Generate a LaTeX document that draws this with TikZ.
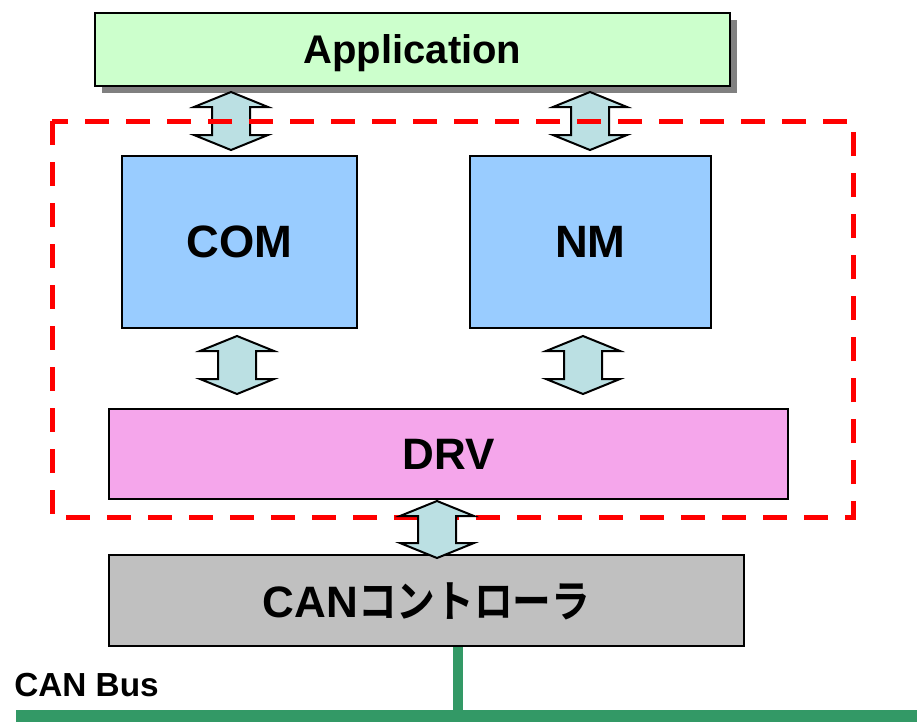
\documentclass[tikz,border=0pt]{standalone}
\usepackage{fontspec}
\setmainfont{Liberation Sans}
\newfontfamily\jpfont{Noto Sans CJK JP}[BoldFont={Noto Sans CJK JP Bold}]
\usetikzlibrary{calc}
\usetikzlibrary{fit}
\usetikzlibrary{shadows}
\definecolor{appgreen}{RGB}{204,255,204}
\definecolor{modblue}{RGB}{153,204,255}
\definecolor{drvpink}{RGB}{245,166,235}
\definecolor{ctrlgray}{RGB}{192,192,192}
\definecolor{pipecyan}{RGB}{187,224,227}
\definecolor{busgreen}{RGB}{51,153,102}
\definecolor{shadowgray}{RGB}{128,128,128}
\tikzset{
    layer/.style={draw=black, line width=1.5pt, inner sep=0pt},
    title/.style={font=\bfseries\fontsize{#1}{#1}\selectfont, inner sep=0pt, text depth=0pt},
    title/.default=34,
    pipe/.style={draw=black, line width=1.5pt, fill=pipecyan, line join=miter},
    frame/.style={draw=red, line width=3.75pt, dash pattern=on 18pt off 12.75pt}
}
% double-headed block arrow at x=#1 between node #2 (above) and node #3 (below)
\newcommand{\twoway}[5] {
	\coordinate (up) at ($(#1,0 |- #2.south)+(0,-#4)$);
	\coordinate (dn) at ($(#1,0 |- #3.north)+(0,#5)$);
	\draw[pipe] (up) -- ++(37,-15) -- ++(-18,0) -- ($(dn)+(19,15)$) -- ++(18,0)
		-- (dn) -- ++(-37,15) -- ++(18,0) -- ($(up)+(-19,-15)$) -- ++(-18,0) -- cycle;
}

\begin{document}
\begin{tikzpicture}[x=0.75pt, y=0.75pt]
		\useasboundingbox (0,0) rectangle (917,-722);

		% layers
		\node[layer, fill=appgreen, fit={(95,-13) (730,-86)},
			drop shadow={shadow xshift=5.25pt, shadow yshift=-5.25pt, fill=shadowgray, opacity=1}] (app) {};
		\node[title=30] at (app.center) {Application};

		\node[layer, fill=modblue, fit={(122,-156) (357,-328)}] (com) {};
		\node[title] at (com.center) {COM};

		\node[layer, fill=modblue, fit={(470,-156) (711,-328)}] (nm) {};
		\node[title] at (nm.center) {NM};

		\node[layer, fill=drvpink, fit={(109,-409) (788,-499)}] (drv) {};
		\node[title=33] at (drv.center) {DRV};

		\node[layer, fill=ctrlgray, fit={(109,-555) (744,-646)}] (ctrl) {};
		\node[title=33] at (ctrl.center) {CAN\scalebox{0.88}[1]{\jpfont\bfseries コントローラ}};

		% arrows between the layers
		\twoway{231}{app}{com}{5}{5}
		\twoway{590}{app}{nm}{5}{5}
		\twoway{237}{com}{drv}{7}{14}
		\twoway{583}{nm}{drv}{7}{14}

		% CAN driver part
		\draw[frame] (52,-121) rectangle (853,-517);

		\twoway{437}{drv}{ctrl}{1}{-4}

		% bus
		\node[title=25, anchor=west] (buslabel) at (14,-685) {CAN Bus};
		\fill[busgreen] (16,-710) rectangle (917,-722);
		\draw[busgreen, line width=7.5pt] (458,0 |- ctrl.south) -- (458,-712);

	\end{tikzpicture}
\end{document}
